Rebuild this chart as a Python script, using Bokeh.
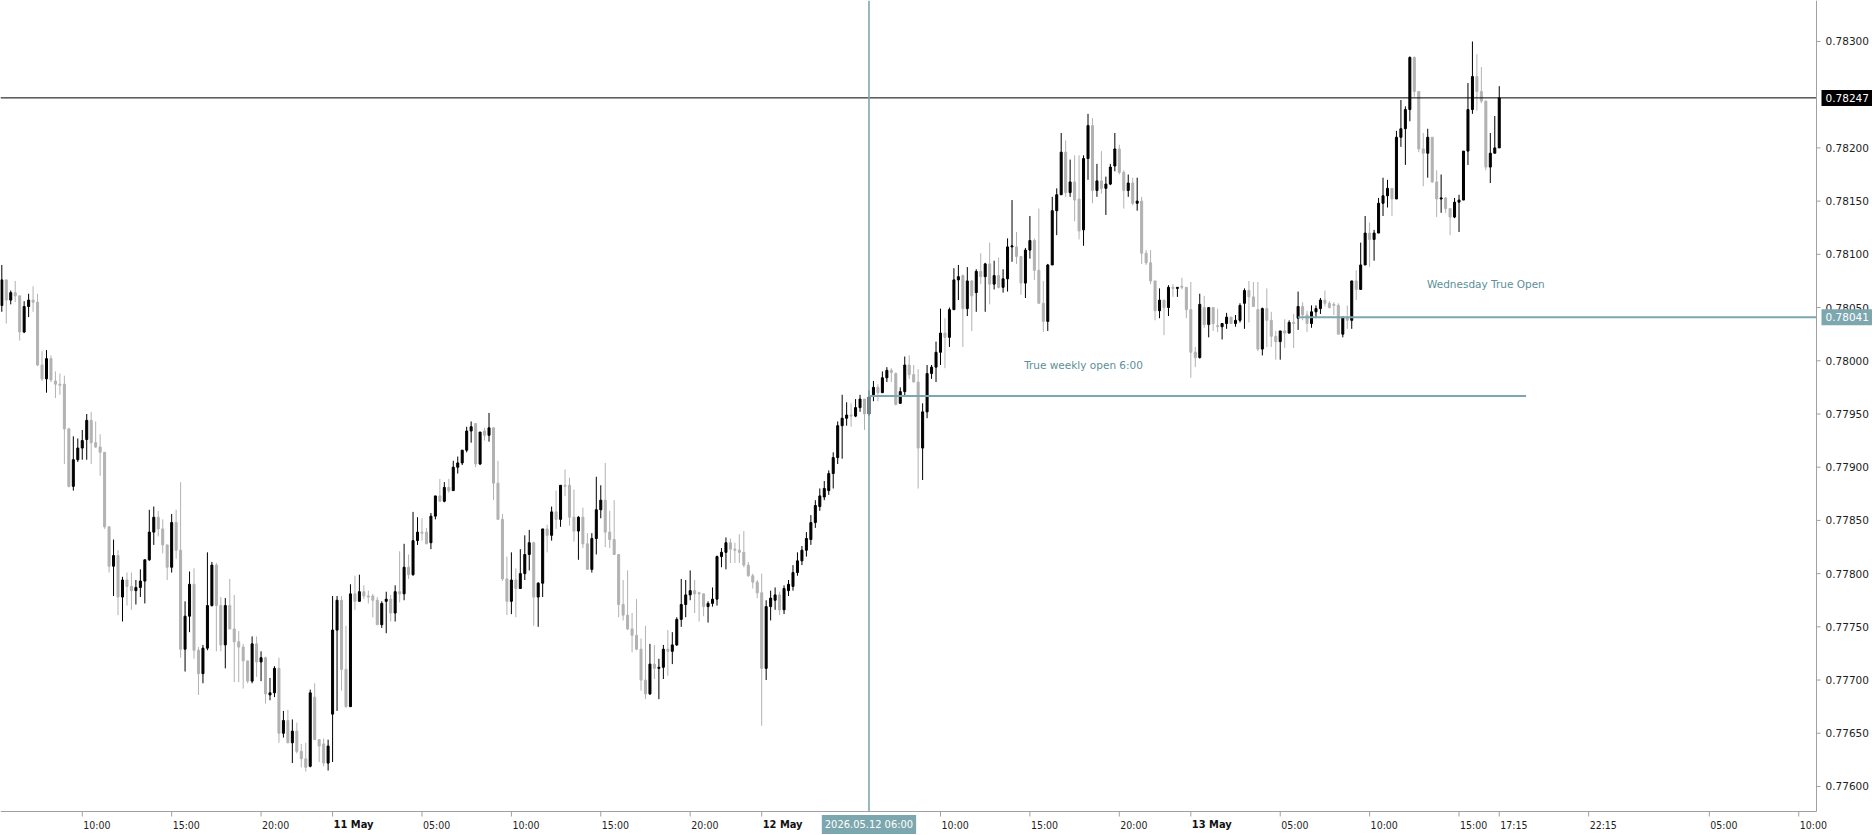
import pandas as pd
from bokeh.plotting import figure
from bokeh.models import Range1d, Label, ColumnDataSource
from bokeh.core.properties import value
from bokeh.embed import file_html
from bokeh.resources import INLINE

# ---------------- data (15-minute bars, prices in 1e-5 units) ----------------
first_bar = "2026-05-10 05:30"
bar_minutes = 15

opens = [78052,78076,78057,78064,78061,78027,78051,78057,78055,77996,
77983,78002,77981,77978,77978,77936,77882,77907,77918,77926,
77944,77923,77919,77914,77844,77807,77817,77778,77794,77788,
77784,77787,77793,77813,77839,77853,77842,77827,77806,77848,
77822,77729,77760,77790,77728,77706,77730,77770,77808,77770,
77733,77770,77748,77736,77731,77718,77699,77734,77717,77721,
77686,77688,77711,77650,77662,77641,77652,77633,77626,77619,
77684,77644,77640,77622,77668,77747,77775,77710,77675,77781,
77774,77783,77779,77779,77775,77752,77774,77776,77763,77783,
77781,77806,77799,77831,77839,77839,77829,77854,77873,77868,
77881,77878,77900,77904,77916,77934,77941,77903,77934,77930,
77937,77885,77851,77795,77774,77794,77786,77800,77818,77829,
77778,77791,77842,77836,77858,77851,77883,77883,77853,77840,
77853,77828,77804,77833,77860,77869,77839,77832,77818,77771,
77761,77748,77742,77729,77700,77687,77715,77711,77712,77729,
77727,77733,77757,77771,77780,77784,77782,77781,77769,77772,
77776,77816,77820,77829,77823,77822,77820,77808,77798,77792,
77782,77711,77769,77775,77780,77766,77784,77788,77801,77812,
77822,77832,77848,77863,77872,77878,77894,77909,77939,77946,
77949,77948,77956,77964,77950,77968,77975,77970,77984,77991,
77988,77960,77971,77996,77987,77980,77918,77952,77988,77994,
78008,78026,78022,78048,78076,78080,78049,78075,78064,78084,
78079,78091,78072,78080,78069,78077,78107,78107,78098,78073,
78104,78113,78085,78054,78037,78090,78141,78156,78196,78158,
78168,78152,78123,78190,78221,78160,78169,78162,78166,78183,
78199,78177,78160,78167,78148,78150,78101,78092,78075,78047,
78057,78050,78069,78068,78070,78069,78048,78008,78003,78050,
78034,78050,78033,78032,78035,78041,78035,78038,78054,78066,
78060,78048,78011,78049,78038,78023,78018,78028,78026,78036,
78040,78051,78043,78035,78046,78049,78057,78054,78053,78052,
78025,78041,78038,78075,78067,78090,78120,78114,78120,78148,
78155,78162,78152,78210,78218,78236,78285,78253,78199,78195,
78210,78168,78152,78153,78143,78135,78149,78151,78197,78236,
78267,78253,78244,78182,78195,78200]

highs = [78090,78076,78066,78075,78061,78056,78063,78070,78063,78009,
78010,78005,77990,77988,77986,77937,77929,77927,77935,77950,
77952,77943,77931,77914,77844,77832,77822,77797,77801,77801,
77794,77804,77813,77860,77863,77859,77851,77827,77856,77860,
77886,77774,77802,77805,77731,77733,77820,77811,77810,77778,
77777,77795,77780,77746,77734,77718,77741,77741,77727,77722,
77702,77713,77721,77671,77672,77663,77660,77640,77641,77691,
77697,77644,77645,77644,77779,77779,77779,77751,77790,77798,
77799,77789,77784,77781,77778,77774,77783,77780,77789,77821,
77828,77818,77858,77853,77852,77843,77857,77873,77889,77886,
77889,77906,77910,77916,77938,77943,77941,77933,77937,77951,
77937,77906,77856,77816,77820,77805,77823,77836,77841,77830,
77792,77842,77846,77863,77878,77883,77898,77890,77879,77854,
77862,77838,77838,77891,77883,77904,77859,77869,77818,77794,
77803,77763,77776,77739,77751,77734,77733,77720,77733,77747,
77745,77759,77795,77794,77803,77794,77783,77781,77774,77787,
77817,77824,77834,77833,77829,77837,77840,77811,77800,77794,
77800,77775,77784,77787,77783,77789,77794,77808,77820,77826,
77839,77855,77869,77880,77887,77897,77914,77943,77968,77961,
77960,77964,77968,77964,77972,77981,77978,77990,77994,77993,
77989,77975,78004,78005,77996,77992,77960,77996,77996,78018,
78049,78040,78050,78087,78090,78081,78088,78076,78086,78101,
78092,78111,78094,78097,78086,78115,78151,78121,78098,78106,
78136,78115,78143,78075,78091,78154,78162,78214,78207,78189,
78193,78193,78193,78232,78228,78185,78197,78173,78185,78214,
78203,78179,78175,78172,78172,78154,78104,78104,78075,78068,
78057,78071,78072,78069,78078,78069,78074,78013,78063,78061,
78050,78050,78049,78035,78045,78041,78043,78054,78068,78075,
78074,78074,78050,78068,78046,78028,78028,78039,78038,78044,
78065,78055,78047,78052,78052,78059,78066,78056,78055,78054,
78041,78052,78075,78085,78111,78136,78130,78123,78153,78172,
78170,78162,78216,78245,78239,78286,78286,78253,78214,78218,
78210,78179,78175,78154,78143,78153,78156,78197,78261,78300,
78288,78276,78244,78214,78230,78258]

lows = [78046,78035,78053,78055,78019,78026,78041,78046,77995,77981,
77970,77980,77965,77968,77903,77881,77878,77905,77907,77907,
77903,77918,77892,77842,77801,77779,77761,77755,77770,77766,
77771,77778,77772,77812,77827,77835,77819,77794,77801,77814,
77721,77708,77745,77720,77686,77697,77728,77769,77727,77727,
77711,77748,77698,77698,77692,77697,77697,77703,77699,77678,
77681,77684,77641,77646,77641,77622,77631,77618,77614,77618,
77644,77623,77619,77615,77623,77671,77690,77674,77675,77766,
77774,77776,77772,77759,77752,77749,77744,77755,77755,77773,
77775,77795,77798,77827,77831,77828,77823,77851,77868,77867,
77876,77878,77894,77902,77914,77923,77900,77902,77925,77924,
77869,77851,77793,77761,77762,77759,77786,77794,77803,77751,
77750,77778,77820,77831,77842,77844,77873,77845,77830,77813,
77824,77804,77801,77818,77852,77825,77824,77818,77759,77756,
77747,77726,77728,77690,77682,77686,77701,77682,77701,77704,
77715,77732,77750,77759,77775,77763,77755,77760,77754,77769,
77770,77806,77804,77810,77810,77810,77806,77797,77786,77777,
77657,77700,77756,77766,77761,77762,77779,77784,77798,77808,
77816,77827,77843,77859,77869,77874,77880,77903,77908,77939,
77938,77947,77952,77935,77948,77962,77962,77970,77980,77980,
77958,77960,77967,77983,77980,77880,77888,77946,77983,77980,
77996,77993,78013,78048,78057,78013,78042,78028,78046,78072,
78046,78053,78067,78068,78064,78065,78093,78091,78062,78059,
78096,78076,78054,78027,78028,78090,78118,78156,78154,78154,
78131,78114,78108,78170,78148,78154,78157,78137,78165,78178,
78175,78143,78154,78146,78141,78091,78090,78072,78038,78040,
78024,78042,78060,78060,78067,78040,77984,77994,78002,78031,
78022,78028,78027,78020,78030,78035,78032,78036,78030,78036,
78051,78009,78005,78013,78013,78001,78001,78012,78026,78012,
78029,78038,78027,78031,78040,78044,78051,78049,78043,78025,
78022,78030,78030,78057,78067,78090,78088,78094,78120,78136,
78144,78136,78152,78201,78184,78225,78248,78196,78164,78172,
78167,78135,78139,78139,78118,78134,78121,78151,78184,78232,
78235,78242,78179,78167,78195,78200]

closes = [78076,78057,78064,78061,78027,78051,78057,78055,77996,77983,
78002,77982,77978,77977,77936,77882,77907,77918,77925,77944,
77923,77919,77914,77844,77807,77817,77778,77794,77788,77784,
77787,77793,77813,77839,77853,77842,77827,77806,77848,77822,
77729,77760,77790,77728,77706,77730,77770,77808,77770,77733,
77770,77748,77736,77731,77718,77699,77734,77717,77721,77687,
77688,77711,77650,77662,77641,77652,77633,77626,77618,77688,
77644,77638,77622,77638,77747,77775,77710,77675,77781,77774,
77783,77779,77778,77775,77752,77772,77776,77763,77783,77781,
77806,77799,77831,77839,77838,77828,77854,77873,77868,77881,
77878,77900,77904,77916,77934,77938,77903,77933,77930,77937,
77885,77851,77795,77774,77794,77786,77800,77818,77829,77778,
77791,77842,77836,77858,77851,77883,77882,77853,77840,77853,
77828,77804,77833,77860,77869,77839,77832,77818,77771,77761,
77748,77742,77729,77700,77687,77715,77711,77712,77729,77727,
77733,77757,77771,77780,77784,77781,77781,77769,77772,77776,
77816,77820,77829,77823,77822,77820,77808,77798,77792,77782,
77711,77769,77777,77780,77766,77786,77790,77801,77812,77822,
77833,77848,77864,77873,77880,77894,77909,77939,77946,77949,
77948,77956,77964,77950,77966,77975,77970,77984,77991,77989,
77959,77971,77996,77987,77980,77918,77952,77988,77994,78008,
78026,78022,78048,78076,78079,78049,78075,78061,78084,78079,
78091,78072,78080,78069,78077,78107,78108,78098,78073,78104,
78113,78085,78054,78037,78090,78141,78156,78196,78158,78168,
78151,78122,78190,78221,78160,78169,78162,78166,78182,78199,
78177,78160,78167,78148,78150,78101,78092,78075,78047,78057,
78050,78069,78068,78069,78069,78048,78008,78003,78053,78034,
78050,78035,78032,78035,78041,78035,78038,78052,78066,78060,
78051,78011,78049,78038,78023,78018,78028,78026,78036,78035,
78051,78043,78035,78046,78049,78057,78054,78050,78052,78025,
78041,78038,78075,78067,78090,78120,78114,78120,78148,78155,
78162,78152,78210,78218,78236,78285,78253,78199,78195,78210,
78168,78152,78153,78143,78135,78149,78151,78197,78236,78267,
78253,78244,78182,78195,78200,78247]

tick_times = ["2026-05-10 10:00", "2026-05-10 15:00", "2026-05-10 20:00", "2026-05-11 00:00",
              "2026-05-11 05:00", "2026-05-11 10:00", "2026-05-11 15:00", "2026-05-11 20:00",
              "2026-05-12 00:00", "2026-05-12 10:00", "2026-05-12 15:00", "2026-05-12 20:00",
              "2026-05-13 00:00", "2026-05-13 05:00", "2026-05-13 10:00", "2026-05-13 15:00",
              "2026-05-13 17:15", "2026-05-13 22:15", "2026-05-14 05:00", "2026-05-14 10:00"]
tick_labels = ["10:00", "15:00", "20:00", "11 May", "05:00", "10:00", "15:00", "20:00",
               "12 May", "10:00", "15:00", "20:00", "13 May", "05:00", "10:00", "15:00",
               "17:15", "22:15", "05:00", "10:00"]
date_labels = ["11 May", "12 May", "13 May"]

price_ticks = [0.77600, 0.77650, 0.77700, 0.77750, 0.77800, 0.77850, 0.77900, 0.77950,
               0.78000, 0.78050, 0.78100, 0.78150, 0.78200, 0.78300]

last_price = 0.78247
weekly_open = 0.77967
weekly_open_time = "2026-05-12 06:00"
weekly_open_end = "2026-05-13 18:45"
weekly_open_text = "True weekly open 6:00"
wednesday_open = 0.78041
wednesday_open_time = "2026-05-13 06:00"
wednesday_text = "Wednesday True Open"
marker_text = "2026.05.12 06:00"

# ---------------- helpers ----------------
t0 = pd.Timestamp(first_bar)
def bar_index(ts):
    return (pd.Timestamp(ts) - t0) / pd.Timedelta(minutes=bar_minutes)

PT = 1e-5
o = [v * PT for v in opens]
h = [v * PT for v in highs]
l = [v * PT for v in lows]
c = [v * PT for v in closes]
idx = list(range(len(o)))
up = [i for i in idx if c[i] >= o[i]]
dn = [i for i in idx if c[i] < o[i]]

def src(sel):
    return ColumnDataSource(dict(
        x=[idx[i] for i in sel],
        hi=[h[i] for i in sel], lo=[l[i] for i in sel],
        top=[max(o[i], c[i]) for i in sel], bot=[min(o[i], c[i]) for i in sel]))

BULL = "#000000"
BEAR = "#b2b2b2"
TEAL = "#7da7ae"
TEAL_TEXT = "#5d8f98"
AXIS = "#a0a0a0"
LABEL = "#1e1e1e"

# ---------------- geometry (style only) ----------------
W, H = 1872, 835
PLOT_W, PLOT_H = 1816, 811
px_per_bar = 4.47
y_top, y_plot_bot = 0.783385, 0.775765
px_per_price = PLOT_H / (y_top - y_plot_bot)
def dx(px): return px / px_per_bar
def dy(px): return px / px_per_price
x_start = -dx(1.3)
x_plot_end = x_start + dx(PLOT_W)
x_canvas_end = x_start + dx(W)
y_canvas_bot = y_top - dy(H)

p = figure(width=W, height=H, output_backend="svg", toolbar_location=None,
           x_range=Range1d(x_start, x_canvas_end), y_range=Range1d(y_canvas_bot, y_top),
           x_axis_location=None, y_axis_location=None,
           min_border=0, min_border_left=0, min_border_right=0, min_border_top=0, min_border_bottom=0)
p.outline_line_color = None
p.grid.visible = False
p.background_fill_color = "white"
p.border_fill_color = "white"

# candles
for sel, col in ((up, BULL), (dn, BEAR)):
    s = src(sel)
    p.segment(x0="x", y0="hi", x1="x", y1="lo", source=s, line_color=col, line_width=1)
    p.vbar(x="x", width=0.45, top="top", bottom="bot", source=s,
           fill_color=col, line_color=col, line_width=1)

# levels
wk0 = bar_index(weekly_open_time)
wk1 = bar_index(weekly_open_end)
wd0 = bar_index(wednesday_open_time)
p.segment(x0=[wk0], y0=[weekly_open], x1=[wk1], y1=[weekly_open], line_color=TEAL, line_width=2)
p.segment(x0=[wd0], y0=[wednesday_open], x1=[x_plot_end], y1=[wednesday_open], line_color=TEAL, line_width=2)
p.segment(x0=[x_start], y0=[last_price], x1=[x_plot_end], y1=[last_price], line_color="black", line_width=1)
p.segment(x0=[wk0], y0=[y_top], x1=[wk0], y1=[y_plot_bot], line_color=TEAL, line_width=1.6)

p.text(x=[wk0 + 48], y=[weekly_open + dy(31)], text=[weekly_open_text],
       text_align="center", text_baseline="middle", text_color=TEAL_TEXT,
       text_font=value("DejaVu Sans"), text_font_size="10.5px")
p.text(x=[wd0 + 42], y=[wednesday_open + dy(33)], text=[wednesday_text],
       text_align="center", text_baseline="middle", text_color=TEAL_TEXT,
       text_font=value("DejaVu Sans"), text_font_size="10.5px")

# ---------------- price scale (right) ----------------
p.segment(x0=[x_plot_end], y0=[y_top], x1=[x_plot_end], y1=[y_plot_bot], line_color=AXIS, line_width=1)
p.segment(x0=[x_plot_end] * len(price_ticks), y0=price_ticks,
          x1=[x_plot_end + dx(4)] * len(price_ticks), y1=price_ticks, line_color=AXIS, line_width=1)
p.text(x=[x_plot_end + dx(9)] * len(price_ticks), y=price_ticks,
       text=["%.5f" % v for v in price_ticks], text_align="left", text_baseline="middle",
       text_color=LABEL, text_font=value("DejaVu Sans"), text_font_size="10.5px")

# ---------------- time scale (bottom) ----------------
xt = [bar_index(t) for t in tick_times]
p.segment(x0=[x_start], y0=[y_plot_bot], x1=[x_plot_end], y1=[y_plot_bot], line_color=AXIS, line_width=1)
p.segment(x0=xt, y0=[y_plot_bot] * len(xt), x1=xt, y1=[y_plot_bot - dy(5)] * len(xt),
          line_color=AXIS, line_width=1)
label_y = y_plot_bot - dy(13)
plain = [(v, lab) for v, lab in zip(xt, tick_labels) if lab not in date_labels]
dates = [(v, lab) for v, lab in zip(xt, tick_labels) if lab in date_labels]
p.text(x=[v + dx(1) for v, _ in plain], y=[label_y] * len(plain), text=[lab for _, lab in plain],
       text_align="left", text_baseline="middle", text_color=LABEL,
       text_font=value("DejaVu Sans Condensed"), text_font_size="10.5px")
p.text(x=[v + dx(1) for v, _ in dates], y=[label_y] * len(dates), text=[lab for _, lab in dates],
       text_align="left", text_baseline="middle", text_color="#111111",
       text_font=value("DejaVu Sans Condensed"), text_font_size="11px", text_font_style="bold")

# ---------------- scale markers ----------------
p.add_layout(Label(x=wk0, y=label_y, text=marker_text, text_align="center", text_baseline="middle",
                   text_font="DejaVu Sans Condensed", text_font_size="11px", text_color="white",
                   background_fill_color=TEAL, padding=3))
p.add_layout(Label(x=x_plot_end + dx(5), y=last_price, text="%.5f" % last_price, text_align="left",
                   text_baseline="middle", text_font="DejaVu Sans", text_font_size="10.5px",
                   text_color="white", background_fill_color="black", padding=4))
p.add_layout(Label(x=x_plot_end + dx(5), y=wednesday_open, text="%.5f" % wednesday_open,
                   text_align="left", text_baseline="middle", text_font="DejaVu Sans",
                   text_font_size="10.5px", text_color="white", background_fill_color=TEAL, padding=4))

html = file_html(p, INLINE)
html = html.replace("</head>", "<style>html,body{margin:0;padding:0;overflow:hidden;}</style></head>", 1)
open("out.html", "w").write(html)
